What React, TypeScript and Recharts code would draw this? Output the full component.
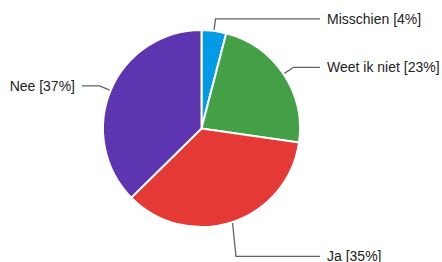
import React from "react";
import { PieChart, Pie, Cell } from "recharts";

const categories = ["Misschien", "Weet ik niet", "Ja", "Nee"];
const percentages = [4, 23, 35, 37];
const colors = ["#039be5", "#43a047", "#e53935", "#5e35b1"];

const data = categories.map((name, i) => ({ name, value: percentages[i] }));

const RAD = Math.PI / 180;
const CX = 201.5;
const CY = 128.5;
const R = 98.5;
// extra radial distance of label elbows (layout only)
const elbowExtraY: Record<string, number> = { Ja: 36 };

const renderLabel = (props: any) => {
  const { cx, cy, midAngle, outerRadius, name, value } = props;
  const cos = Math.cos(midAngle * RAD);
  const sin = Math.sin(midAngle * RAD);
  const sx = cx + (outerRadius + 1) * cos;
  const sy = cy - (outerRadius + 1) * sin;
  const ex = cx + (outerRadius + 12) * cos;
  const ey = cy - (outerRadius + (elbowExtraY[name] ?? 12)) * sin;
  const right = cos >= 0;
  const lx = right ? cx + 118.5 : cx - 119.5;
  const tx = right ? cx + 125.5 : cx - 126.5;
  return (
    <g>
      <polyline
        points={`${sx},${sy} ${ex},${ey} ${lx},${ey}`}
        fill="none"
        stroke="#636363"
        strokeWidth={1.3}
      />
      <text
        x={tx}
        y={ey}
        textAnchor={right ? "start" : "end"}
        dominantBaseline="central"
        fontFamily="Arial, 'Liberation Sans', sans-serif"
        fontSize={14}
        fill="#222222"
      >
        {`${name} [${value}%]`}
      </text>
    </g>
  );
};

export default function App() {
  return (
    <div style={{ position: "absolute", left: 0, top: 0, background: "#fff" }}>
      <PieChart width={442} height={262} margin={{ top: 0, right: 0, bottom: 0, left: 0 }}>
        <Pie
          data={data}
          dataKey="value"
          nameKey="name"
          cx={CX}
          cy={CY}
          outerRadius={R}
          startAngle={90}
          endAngle={-270}
          stroke="#ffffff"
          strokeWidth={2}
          label={renderLabel}
          labelLine={false}
          isAnimationActive={false}
        >
          {data.map((d, i) => (
            <Cell key={d.name} fill={colors[i]} />
          ))}
        </Pie>
      </PieChart>
    </div>
  );
}
